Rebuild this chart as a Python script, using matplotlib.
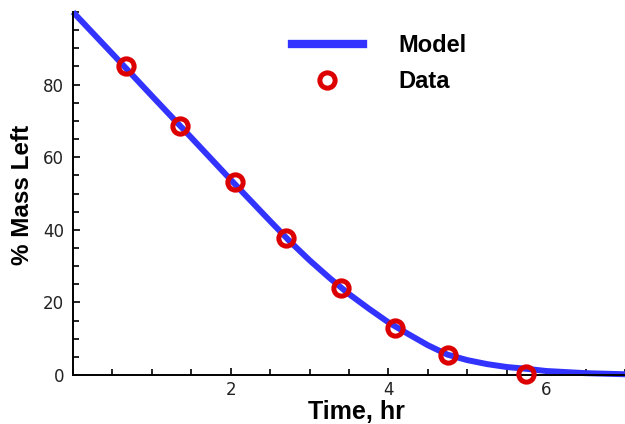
import matplotlib
matplotlib.use("Agg")
import matplotlib.pyplot as plt
from matplotlib.lines import Line2D
from matplotlib.ticker import MultipleLocator, FixedLocator

# model curve (hours, % mass left)
model_t = [0.0, 0.5, 1.0, 1.5, 2.0, 2.5, 2.75, 3.0, 3.25, 3.5, 3.75, 4.0,
           4.25, 4.5, 4.75, 5.0, 5.25, 5.5, 5.75, 6.0, 6.5, 7.0]
model_m = [100.0, 88.5, 76.9, 65.4, 53.8, 42.4, 36.8, 31.6, 26.8, 22.3, 18.3, 14.5,
           11.3, 8.2, 5.6, 4.1, 3.0, 2.2, 1.7, 1.1, 0.5, 0.2]

# measured points
data_t = [0.675, 1.36, 2.05, 2.70, 3.40, 4.08, 4.75, 5.75]
data_m = [85.1, 68.6, 53.3, 37.7, 24.1, 12.9, 5.5, 0.3]

xticks = [2, 4, 6]
yticks = [0, 20, 40, 60, 80]

plt.rcParams['font.family'] = ['Liberation Sans', 'DejaVu Sans']

blue = '#3333ff'
red = '#dd0000'

fig = plt.figure(figsize=(6.25, 4.24), dpi=100)
ax = fig.add_axes([0.1168, 0.1156, 0.8832, 0.856])

ax.plot(model_t, model_m, color=blue, lw=4.3, solid_capstyle='butt',
        zorder=2, clip_on=False)
ax.plot(data_t, data_m, ls='none', marker='o', ms=11, mfc='none',
        mec=red, mew=3.6, zorder=3, clip_on=False)

ax.set_xlim(0, 7)
ax.set_ylim(0, 100)
ax.xaxis.set_major_locator(FixedLocator(xticks))
ax.yaxis.set_major_locator(FixedLocator(yticks))
ax.xaxis.set_minor_locator(MultipleLocator(0.5))
ax.yaxis.set_minor_locator(MultipleLocator(5))

for side in ['top', 'right']:
    ax.spines[side].set_visible(False)
for side in ['left', 'bottom']:
    ax.spines[side].set_linewidth(1.4)

ax.tick_params(which='both', direction='in', width=1.2)
ax.tick_params(which='major', length=5)
ax.tick_params(which='minor', length=4)
ax.tick_params(axis='y', pad=6.5)
ax.tick_params(axis='x', pad=4.5)
for lbl in ax.get_xticklabels() + ax.get_yticklabels():
    lbl.set_family('DejaVu Sans')
    lbl.set_fontsize(12)
    lbl.set_color('#222222')

ax.set_xlabel('Time, hr', fontsize=18, fontweight='bold')
ax.set_ylabel('% Mass Left', fontsize=17.5, fontweight='bold')
ax.xaxis.set_label_coords(0.514, -0.070)
ax.yaxis.set_label_coords(-0.070, 0.496)

handles = [Line2D([], [], color=blue, lw=6),
           Line2D([], [], ls='none', marker='o', ms=11, mfc='none',
                  mec=red, mew=3.6)]
ax.legend(handles, ['Model', 'Data'], loc='upper left',
          bbox_to_anchor=(0.358, 0.997), frameon=False,
          prop={'size': 17, 'weight': 'bold'},
          handlelength=3.0, handletextpad=1.5, labelspacing=0.55)

fig.savefig('out.png', dpi=100)
